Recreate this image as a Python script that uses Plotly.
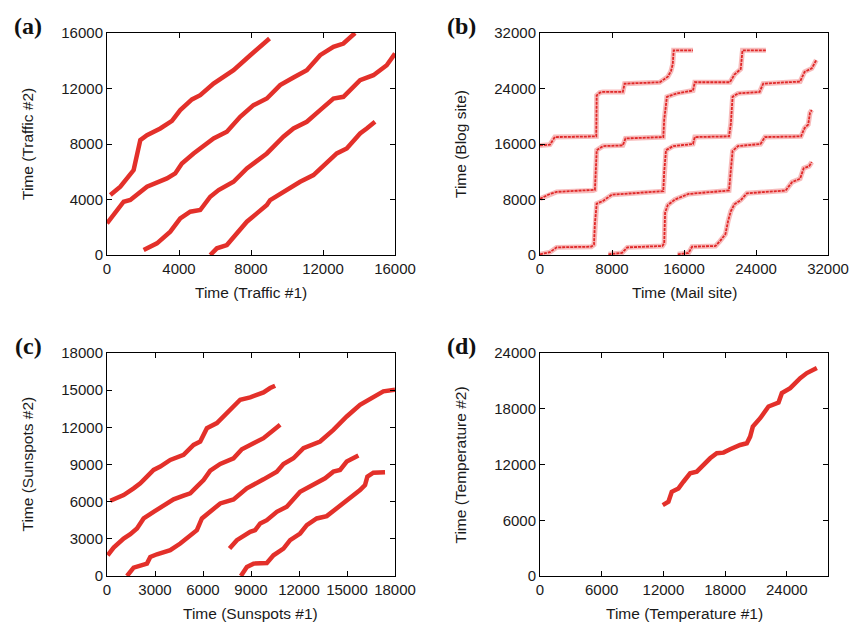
import plotly.graph_objects as go

# ---------------- Panel (a): Traffic ----------------
a1_x = [185, 740, 1480, 1665, 1850, 2220, 2960, 3610, 4070, 4720, 5180, 5920, 7030, 7960, 8695, 9030]
a1_y = [4320, 4920, 6120, 7320, 8280, 8640, 9120, 9670, 10440, 11210, 11520, 12360, 13320, 14400, 15240, 15600]
a2_x = [0, 925, 1295, 2220, 3330, 3790, 4160, 4810, 5920, 6660, 7400, 8140, 8880, 9620, 10360, 11100, 11840, 12580, 13135, 13780]
a2_y = [2280, 3840, 3960, 4920, 5520, 5880, 6600, 7320, 8400, 8880, 9960, 10800, 11280, 12240, 12790, 13320, 14400, 15000, 15240, 16000]
a3_x = [2035, 2775, 3515, 4070, 4625, 5180, 5735, 6200, 7030, 7770, 8880, 9800, 10360, 11100, 11840, 12580, 13135, 14060, 14800, 15540, 16000]
a3_y = [360, 840, 1680, 2640, 3120, 3240, 4200, 4680, 5280, 6240, 7320, 8520, 9120, 9600, 10440, 11280, 11400, 12600, 12960, 13680, 14520]
a4_x = [5735, 6105, 6660, 7400, 7770, 8325, 8880, 9065, 9800, 10730, 11470, 12210, 12765, 13320, 14060, 14430, 14890]
a4_y = [0, 480, 720, 1800, 2400, 3000, 3600, 3960, 4560, 5280, 5760, 6600, 7320, 7680, 8760, 9120, 9600]

# ---------------- Panel (b): Mail vs Blog ----------------
b1_x = [0, 1100, 1650, 5900, 6250, 6300, 6650, 7000, 9200, 9400, 13300, 14200, 14550, 14750, 14850, 17000]
b1_y = [15800, 15900, 17000, 17100, 17100, 23000, 23400, 23500, 23500, 24700, 24900, 25700, 26500, 27500, 29500, 29500]
b2_x = [0, 1100, 1850, 5900, 6100, 6200, 6300, 7000, 9200, 9500, 13700, 13800, 14100, 15200, 17000, 17200, 21100, 21600, 22300, 22500, 25100]
b2_y = [8100, 8800, 9100, 9300, 9400, 12200, 15100, 15700, 15800, 16800, 17000, 19500, 22800, 23300, 23700, 24900, 24900, 26000, 26800, 29500, 29500]
b3_x = [0, 1100, 1850, 5700, 6000, 6100, 6300, 7000, 8000, 13700, 13800, 14000, 14800, 17000, 17200, 21000, 21200, 21400, 22000, 24400, 24800, 28900, 29400, 30200, 30700]
b3_y = [100, 400, 1100, 1200, 1500, 4500, 7400, 7800, 8700, 9200, 12000, 15100, 15700, 16000, 17000, 17100, 18900, 22800, 23300, 23500, 24700, 25000, 26400, 26900, 28100]
b4_x = [7600, 9100, 9700, 13600, 13800, 13900, 14200, 15000, 16500, 21000, 21200, 21400, 22000, 24500, 25000, 29000, 29400, 29800, 30000, 30200]
b4_y = [100, 300, 1100, 1300, 1700, 6100, 7200, 8000, 8800, 9300, 12200, 15000, 15700, 16000, 17000, 17100, 18300, 18800, 20500, 20900]
b5_x = [15300, 16500, 16900, 19500, 20000, 20600, 20900, 21200, 21600, 22300, 23000, 24000, 27300, 28000, 28900, 29300, 29900, 30200]
b5_y = [100, 300, 1200, 1300, 2000, 3000, 4900, 6300, 7300, 7900, 8900, 9000, 9300, 10500, 11000, 12500, 12800, 13400]

# ---------------- Panel (c): Sunspots ----------------
c1_x = [208, 1040, 1665, 2081, 2497, 2913, 3330, 3954, 4786, 5411, 5827, 6035, 6243, 6868, 7700, 8324, 8949, 9781, 10197, 10509]
c1_y = [6075, 6534, 7074, 7479, 8019, 8559, 8829, 9369, 9774, 10584, 10854, 11394, 11934, 12339, 13419, 14229, 14418, 14823, 15174, 15363]
c2_x = [42, 416, 1040, 1457, 1873, 2289, 2913, 3538, 4162, 4786, 5203, 5619, 6035, 6451, 7076, 7908, 8428, 9157, 9781, 10821]
c2_y = [1674, 2295, 3024, 3375, 3834, 4644, 5184, 5724, 6183, 6480, 6669, 7209, 7749, 8505, 9045, 9504, 10233, 10719, 11124, 12204]
c3_x = [1249, 1665, 2497, 2705, 3122, 3954, 4578, 5619, 5931, 6451, 7076, 7908, 8740, 9781, 10613, 11029, 11653, 12278, 13318, 14150, 14983, 15815, 16647, 17272, 18000]
c3_y = [0, 675, 999, 1539, 1755, 2079, 2619, 3699, 4644, 5184, 5859, 6183, 7074, 7803, 8424, 9045, 9504, 10314, 10854, 11799, 12879, 13824, 14499, 14904, 15039]
c4_x = [7658, 8116, 8949, 9261, 9573, 9989, 10613, 11237, 12070, 12902, 13630, 14150, 14567, 14983, 15711]
c4_y = [2214, 2889, 3564, 3699, 4239, 4509, 5184, 5589, 6804, 7344, 7884, 8424, 8559, 9234, 9720]
c5_x = [8366, 8740, 9157, 9989, 10405, 11029, 11445, 12070, 12486, 13110, 13734, 14359, 14983, 15815, 16127, 16273, 16647, 17376]
c5_y = [0, 729, 999, 1053, 1674, 2214, 2889, 3429, 4104, 4644, 4833, 5454, 6129, 6939, 7344, 8019, 8343, 8370]

# ---------------- Panel (d): Temperature ----------------
d_x = [11934, 12486, 12810, 13459, 13945, 14594, 15242, 15891, 16540, 17189, 17837, 18486, 19459, 20108, 20432, 20692, 21405, 22216, 23189, 23513, 24324, 25297, 25945, 26918]
d_y = [7628, 7988, 9067, 9427, 10146, 11046, 11226, 11945, 12665, 13205, 13277, 13636, 14104, 14284, 15003, 16083, 16983, 18242, 18674, 19681, 20221, 21300, 21840, 22379]

panel_labels = ["(a)", "(b)", "(c)", "(d)"]
x_titles = ["Time (Traffic #1)", "Time (Mail site)", "Time (Sunspots #1)", "Time (Temperature #1)"]
y_titles = ["Time (Traffic #2)", "Time (Blog site)", "Time (Sunspots #2)", "Time (Temperature #2)"]
x_ranges = [[0, 16000], [0, 32000], [0, 18000], [0, 28000]]
y_ranges = [[0, 16000], [0, 32000], [0, 18000], [0, 24000]]
x_dticks = [4000, 8000, 3000, 6000]
y_dticks = [4000, 8000, 3000, 6000]

W, H = 862, 624
# plot-area boxes in pixels (left, right, top, bottom)
boxes = [(107, 395, 33, 255), (540, 828, 33, 255), (107, 395, 353, 576), (540, 828, 353, 576)]

RED = "#e3302a"
fig = go.Figure()

def add_line(xs, ys, k):
    ax = "" if k == 0 else str(k + 1)
    fig.add_trace(go.Scatter(x=xs, y=ys, mode="lines", xaxis="x" + ax, yaxis="y" + ax,
                             line=dict(color=RED, width=4.5), showlegend=False, hoverinfo="skip"))

def add_step(xs, ys, k):
    ax = str(k + 1)
    fig.add_trace(go.Scatter(x=xs, y=ys, mode="lines", xaxis="x" + ax, yaxis="y" + ax,
                             line=dict(color="rgba(240,120,120,0.5)", width=5), showlegend=False, hoverinfo="skip"))
    fig.add_trace(go.Scatter(x=xs, y=ys, mode="lines", xaxis="x" + ax, yaxis="y" + ax,
                             line=dict(color="#e02828", width=1.8, dash="3px,1px"), showlegend=False, hoverinfo="skip"))

for xs, ys in [(a1_x, a1_y), (a2_x, a2_y), (a3_x, a3_y), (a4_x, a4_y)]:
    add_line(xs, ys, 0)
for xs, ys in [(b1_x, b1_y), (b2_x, b2_y), (b3_x, b3_y), (b4_x, b4_y), (b5_x, b5_y)]:
    add_step(xs, ys, 1)
for xs, ys in [(c1_x, c1_y), (c2_x, c2_y), (c3_x, c3_y), (c4_x, c4_y), (c5_x, c5_y)]:
    add_line(xs, ys, 2)
add_line(d_x, d_y, 3)

FONT = "Liberation Sans, Arial, sans-serif"
TXT = "#1a1a1a"
layout = dict(width=W, height=H, autosize=False, margin=dict(l=0, r=0, t=0, b=0, pad=0, autoexpand=False),
              paper_bgcolor="white", plot_bgcolor="white",
              font=dict(family=FONT, size=15, color=TXT))
annotations = []
for k, (l, r, t, b) in enumerate(boxes):
    sfx = "" if k == 0 else str(k + 1)
    common = dict(showgrid=False, zeroline=False, showline=True, linecolor="black", linewidth=1,
                  mirror="ticks", ticks="inside", ticklen=5, tickcolor="black", tick0=0,
                  automargin=False,
                  tickformat="d", tickfont=dict(size=15, family=FONT, color=TXT))
    layout["xaxis" + sfx] = dict(domain=[l / W, r / W], range=x_ranges[k], dtick=x_dticks[k],
                                 anchor="y" + sfx, **common)
    layout["yaxis" + sfx] = dict(domain=[1 - b / H, 1 - t / H], range=y_ranges[k], dtick=y_dticks[k],
                                 anchor="x" + sfx, **common)
    cx = (l + r) / 2
    cy = (t + b) / 2
    annotations.append(dict(text=x_titles[k], x=cx / W, y=1 - (b + 37) / H, xref="paper", yref="paper",
                            showarrow=False, xanchor="center", yanchor="middle",
                            font=dict(size=15.5, family=FONT, color=TXT)))
    annotations.append(dict(text=y_titles[k], x=(l - 80) / W, y=1 - cy / H, xref="paper", yref="paper",
                            showarrow=False, xanchor="center", yanchor="middle", textangle=-90,
                            font=dict(size=15.5, family=FONT, color=TXT)))
    annotations.append(dict(text="<b>" + panel_labels[k] + "</b>", x=(l - 79) / W, y=1 - (t - 7) / H,
                            xref="paper", yref="paper", showarrow=False, xanchor="center", yanchor="middle",
                            font=dict(size=24, family="Liberation Serif, Times New Roman, serif", color="#111")))
layout["annotations"] = annotations
fig.update_layout(**layout)
fig.write_html("out.html")
